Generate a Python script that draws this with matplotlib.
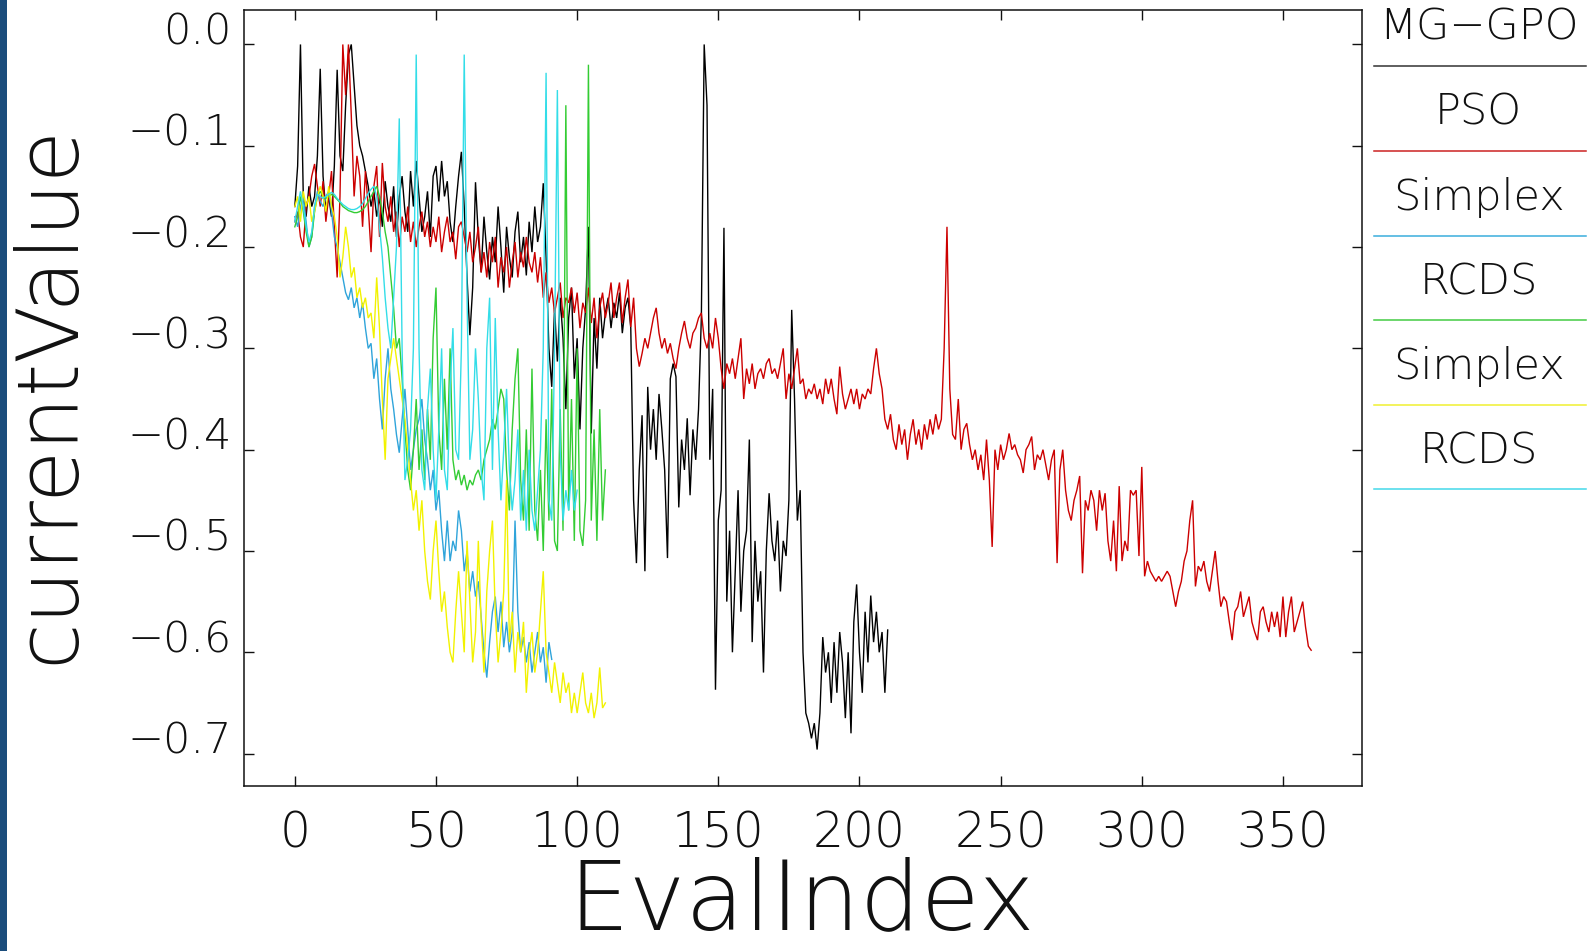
import numpy as np
import matplotlib
matplotlib.use("Agg")
import matplotlib.pyplot as plt
from matplotlib import font_manager
from matplotlib.font_manager import FontProperties
from matplotlib.lines import Line2D
from matplotlib.patches import Rectangle

# ---------------------------------------------------------------- data
series_names = ["MG\u2212GPO", "PSO", "Simplex", "RCDS", "Simplex", "RCDS"]
series_colors = ["#000000", "#cc0000", "#2fa4da", "#33cc33", "#f2f200", "#33dde8"]
legend_colors = ["#333333", "#cc2222", "#3aaedc", "#44cc44", "#f0f030", "#44d8ea"]

x_ticks = [0, 50, 100, 150, 200, 250, 300, 350]
y_ticks = [0.0, -0.1, -0.2, -0.3, -0.4, -0.5, -0.6, -0.7]
y_tick_labels = ["0.0", "\u22120.1", "\u22120.2", "\u22120.3", "\u22120.4",
                 "\u22120.5", "\u22120.6", "\u22120.7"]

mg_gpo = [
    -.160, -.120, .000, -.150, -.170, -.140, -.160, -.150, -.110, -.024,
    -.130, -.165, -.150, -.170, -.120, -.025, -.110, -.125, -.060, -.010,
    .000, -.040, -.080, -.100, -.110, -.125, -.140, -.160, -.145, -.170,
    -.150, -.180, -.135, -.160, -.175, -.140, -.190, -.150, -.130, -.165,
    -.185, -.125, -.160, -.115, -.150, -.185, -.170, -.145, -.190, -.130,
    -.120, -.155, -.115, -.150, -.135, -.175, -.195, -.160, -.130, -.106,
    -.160, -.230, -.287, -.240, -.136, -.190, -.225, -.170, -.205, -.232,
    -.190, -.215, -.160, -.200, -.245, -.180, -.210, -.230, -.185, -.165,
    -.215, -.190, -.228, -.175, -.205, -.160, -.195, -.180, -.137, -.210,
    -.300, -.338, -.260, -.313, -.250, -.290, -.360, -.270, -.240, -.330,
    -.290, -.380, -.300, -.260, -.180, -.384, -.270, -.320, -.250, -.290,
    -.265, -.250, -.280, -.255, -.270, -.245, -.285, -.260, -.250, -.280,
    -.450, -.512, -.420, -.366, -.520, -.338, -.400, -.360, -.410, -.345,
    -.380, -.420, -.507, -.330, -.315, -.328, -.457, -.390, -.420, -.369,
    -.445, -.380, -.410, -.360, -.269, .000, -.060, -.410, -.340, -.637,
    -.470, -.440, -.181, -.550, -.480, -.600, -.520, -.440, -.560, -.500,
    -.480, -.390, -.590, -.490, -.550, -.520, -.620, -.500, -.443, -.490,
    -.510, -.470, -.540, -.490, -.505, -.450, -.262, -.350, -.470, -.440,
    -.600, -.660, -.670, -.685, -.670, -.696, -.660, -.585, -.620, -.600,
    -.650, -.590, -.640, -.580, -.610, -.665, -.600, -.680, -.570, -.533,
    -.600, -.640, -.560, -.610, -.544, -.590, -.560, -.600, -.580, -.640,
    -.578,
]

pso = [
    -.175, -.165, -.190, -.200, -.160, -.150, -.130, -.118, -.140, -.160,
    -.135, -.175, -.150, -.125, -.180, -.230, -.150, .000, -.050, .000,
    -.070, -.150, -.110, -.130, -.180, -.125, -.160, -.205, -.140, -.120,
    -.190, -.117, -.160, -.175, -.150, -.185, -.165, -.200, -.170, -.185,
    -.160, -.195, -.175, -.200, -.180, -.165, -.190, -.175, -.200, -.180,
    -.195, -.170, -.205, -.185, -.170, -.195, -.185, -.212, -.180, -.175,
    -.190, -.205, -.185, -.215, -.200, -.180, -.225, -.205, -.230, -.195,
    -.215, -.190, -.240, -.210, -.225, -.200, -.240, -.215, -.195, -.230,
    -.205, -.220, -.190, -.215, -.225, -.205, -.235, -.210, -.250, -.225,
    -.255, -.240, -.265, -.250, -.235, -.270, -.250, -.255, -.240, -.265,
    -.245, -.280, -.255, -.265, -.240, -.275, -.250, -.290, -.260, -.245,
    -.270, -.255, -.235, -.270, -.250, -.235, -.275, -.250, -.232, -.279,
    -.250, -.300, -.318, -.305, -.290, -.300, -.285, -.270, -.260, -.285,
    -.300, -.290, -.305, -.295, -.310, -.320, -.300, -.285, -.273, -.290,
    -.300, -.285, -.280, -.270, -.265, -.290, -.300, -.285, -.300, -.270,
    -.290, -.320, -.340, -.315, -.325, -.310, -.330, -.310, -.290, -.350,
    -.320, -.335, -.315, -.340, -.325, -.320, -.330, -.315, -.310, -.325,
    -.320, -.330, -.315, -.300, -.350, -.325, -.340, -.320, -.300, -.335,
    -.330, -.350, -.340, -.345, -.335, -.350, -.340, -.355, -.330, -.345,
    -.330, -.350, -.365, -.318, -.345, -.360, -.350, -.340, -.355, -.340,
    -.360, -.345, -.350, -.340, -.345, -.320, -.300, -.325, -.340, -.370,
    -.380, -.365, -.390, -.400, -.375, -.395, -.380, -.410, -.385, -.370,
    -.395, -.380, -.400, -.375, -.390, -.370, -.385, -.365, -.380, -.370,
    -.300, -.180, -.340, -.385, -.390, -.350, -.400, -.380, -.374, -.395,
    -.410, -.400, -.420, -.405, -.430, -.390, -.430, -.496, -.400, -.420,
    -.395, -.410, -.400, -.384, -.400, -.395, -.405, -.410, -.423, -.400,
    -.395, -.387, -.420, -.405, -.410, -.400, -.415, -.430, -.410, -.400,
    -.512, -.420, -.400, -.440, -.460, -.470, -.450, -.440, -.426, -.522,
    -.450, -.460, -.440, -.450, -.480, -.440, -.460, -.443, -.490, -.510,
    -.470, -.520, -.436, -.510, -.490, -.500, -.440, -.445, -.440, -.505,
    -.417, -.525, -.510, -.520, -.525, -.530, -.525, -.530, -.525, -.520,
    -.525, -.540, -.555, -.540, -.530, -.510, -.500, -.470, -.450, -.535,
    -.515, -.520, -.510, -.530, -.540, -.520, -.500, -.530, -.555, -.545,
    -.550, -.570, -.588, -.560, -.555, -.540, -.565, -.555, -.545, -.570,
    -.580, -.588, -.560, -.555, -.570, -.580, -.560, -.575, -.560, -.585,
    -.545, -.585, -.560, -.545, -.580, -.570, -.560, -.550, -.575, -.594,
    -.598,
]

simplex_a = [
    -.170, -.180, -.160, -.150, -.175, -.200, -.190, -.160, -.145, -.155,
    -.160, -.150, -.145, -.165, -.190, -.200, -.215, -.230, -.245, -.252,
    -.240, -.260, -.250, -.270, -.255, -.280, -.300, -.295, -.330, -.310,
    -.350, -.380, -.330, -.300, -.340, -.360, -.385, -.403, -.370, -.340,
    -.380, -.420, -.400, -.380, -.370, -.350, -.390, -.410, -.440, -.420,
    -.460, -.440, -.480, -.510, -.470, -.510, -.490, -.500, -.460, -.480,
    -.520, -.500, -.540, -.520, -.545, -.530, -.565, -.600, -.625, -.590,
    -.560, -.545, -.580, -.550, -.595, -.570, -.600, -.580, -.470, -.560,
    -.600, -.585, -.610, -.590, -.620, -.600, -.580, -.610, -.595, -.630,
    -.590, -.607,
]

rcds_a = [
    -.180, -.170, -.150, -.165, -.185, -.200, -.190, -.165, -.150, -.145,
    -.150, -.152, -.150, -.148, -.150, -.153, -.156, -.160, -.162, -.164,
    -.165, -.166, -.166, -.165, -.163, -.160, -.155, -.150, -.145, -.140,
    -.150, -.165, -.185, -.200, -.230, -.260, -.300, -.290, -.330, -.380,
    -.420, -.440, -.400, -.350, -.420, -.380, -.430, -.360, -.410, -.290,
    -.240, -.380, -.420, -.330, -.400, -.300, -.410, -.430, -.420, -.435,
    -.425, -.440, -.430, -.435, -.425, -.420, -.430, -.410, -.400, -.390,
    -.370, -.380, -.360, -.340, -.350, -.420, -.460, -.380, -.330, -.300,
    -.430, -.470, -.380, -.480, -.320, -.460, -.490, -.420, -.500, -.370,
    -.470, -.340, -.490, -.500, -.360, -.480, -.060, -.460, -.350, -.490,
    -.300, -.480, -.495, -.450, -.020, -.470, -.380, -.490, -.360, -.470,
    -.420,
]

simplex_b = [
    -.160, -.150, -.175, -.145, -.160, -.150, -.175, -.165, -.150, -.140,
    -.150, -.165, -.140, -.160, -.170, -.190, -.230, -.210, -.180, -.200,
    -.230, -.220, -.250, -.240, -.260, -.250, -.270, -.265, -.290, -.230,
    -.280, -.350, -.410, -.330, -.310, -.290, -.310, -.330, -.350, -.370,
    -.400, -.430, -.460, -.440, -.480, -.450, -.500, -.530, -.548, -.500,
    -.470, -.520, -.560, -.540, -.575, -.600, -.610, -.560, -.520, -.560,
    -.600, -.490, -.550, -.610, -.580, -.490, -.570, -.620, -.540, -.500,
    -.470, -.560, -.610, -.580, -.540, -.430, -.590, -.560, -.620, -.580,
    -.600, -.570, -.640, -.600, -.580, -.620, -.600, -.560, -.520, -.600,
    -.620, -.640, -.610, -.630, -.650, -.620, -.640, -.630, -.660, -.640,
    -.660, -.640, -.620, -.650, -.660, -.640, -.665, -.650, -.615, -.655,
    -.650,
]

rcds_b = [
    -.175, -.160, -.145, -.160, -.180, -.195, -.185, -.160, -.148, -.150,
    -.152, -.150, -.148, -.146, -.148, -.152, -.155, -.158, -.160, -.162,
    -.163, -.163, -.162, -.160, -.157, -.152, -.147, -.143, -.140, -.150,
    -.180, -.210, -.250, -.280, -.300, -.250, -.200, -.073, -.300, -.430,
    -.410, -.380, -.300, -.010, -.300, -.420, -.440, -.360, -.320, -.400,
    -.450, -.380, -.300, -.420, -.440, -.340, -.280, -.400, -.410, -.300,
    -.010, -.250, -.410, -.380, -.300, -.350, -.420, -.450, -.300, -.250,
    -.420, -.270, -.380, -.450, -.400, -.340, -.420, -.460, -.430, -.380,
    -.470, -.420, -.480, -.400, -.460, -.480, -.440, -.400, -.300, -.028,
    -.450, -.470, -.300, -.045, -.400, -.470, -.440, -.460, -.420, -.460,
    -.440,
]

all_series = [mg_gpo, pso, simplex_a, rcds_a, simplex_b, rcds_b]


# ---------------------------------------------------------------- fonts
def thin_font():
    wanted = [("DejaVu Sans", 200), ("Noto Sans", 200), ("Noto Sans", 300),
              ("Open Sans", 300), ("Roboto", 300), ("Lato", 300)]
    for name, w in wanted:
        for f in font_manager.fontManager.ttflist:
            weight = f.weight
            if isinstance(weight, str):
                weight = font_manager.weight_dict.get(weight, 400)
            if f.name == name and int(weight) == w and f.style == "normal":
                return f.fname
    return None


fname = thin_font()


def fp(size):
    if fname:
        return FontProperties(fname=fname, size=size)
    return FontProperties(family="DejaVu Sans", size=size)


# ---------------------------------------------------------------- figure
W, H = 1588, 951
fig = plt.figure(figsize=(W / 100, H / 100), dpi=100)
fig.patch.set_facecolor("white")

# dark bar along the left edge
fig.add_artist(Rectangle((0, 0), 7 / W, 1, transform=fig.transFigure,
                         facecolor="#1b4d7c", edgecolor="none"))

ax = fig.add_axes([244 / W, 1 - 786 / H, (1362 - 244) / W, (786 - 10) / H])

for vals, col in zip(all_series, series_colors):
    ax.plot(np.arange(len(vals)), vals, color=col, lw=1.0,
            solid_joinstyle="miter")

ax.set_xlim(-18, 378)
ax.set_ylim(-0.732, 0.034)

for sp in ax.spines.values():
    sp.set_linewidth(1.1)
    sp.set_color("#111111")

ax.set_xticks(x_ticks)
ax.set_xticklabels([str(t) for t in x_ticks], fontproperties=fp(35))
ax.set_yticks(y_ticks)
ax.set_yticklabels(y_tick_labels, fontproperties=fp(31), va="baseline")
ax.tick_params(axis="both", which="major", direction="in", length=7,
               width=1.0, color="#111111", top=True, right=True,
               labelcolor="#111111")
ax.tick_params(axis="x", pad=17)
ax.tick_params(axis="y", pad=9)

# axis titles
fig.text(73 / W, 1 - 394 / H, "currentValue", fontproperties=fp(61),
         rotation=90, rotation_mode="anchor", ha="center", va="baseline",
         color="#111111")
fig.text(802 / W, 1 - 929 / H, "EvalIndex", fontproperties=fp(69),
         ha="center", va="baseline", color="#111111")

# legend column at the right
line_y = [65.8, 150.9, 236.0, 320.0, 405.0, 489.0]
for name, col, ly in zip(series_names, legend_colors, line_y):
    fig.text(1478.6 / W, 1 - (ly - 26) / H, name, fontproperties=fp(31),
             ha="center", va="baseline", color="#111111")
    fig.add_artist(Line2D([1374 / W, 1586 / W], [1 - ly / H, 1 - ly / H],
                          transform=fig.transFigure, color=col, lw=1.1))

fig.savefig("out.png", dpi=100, facecolor="white")
